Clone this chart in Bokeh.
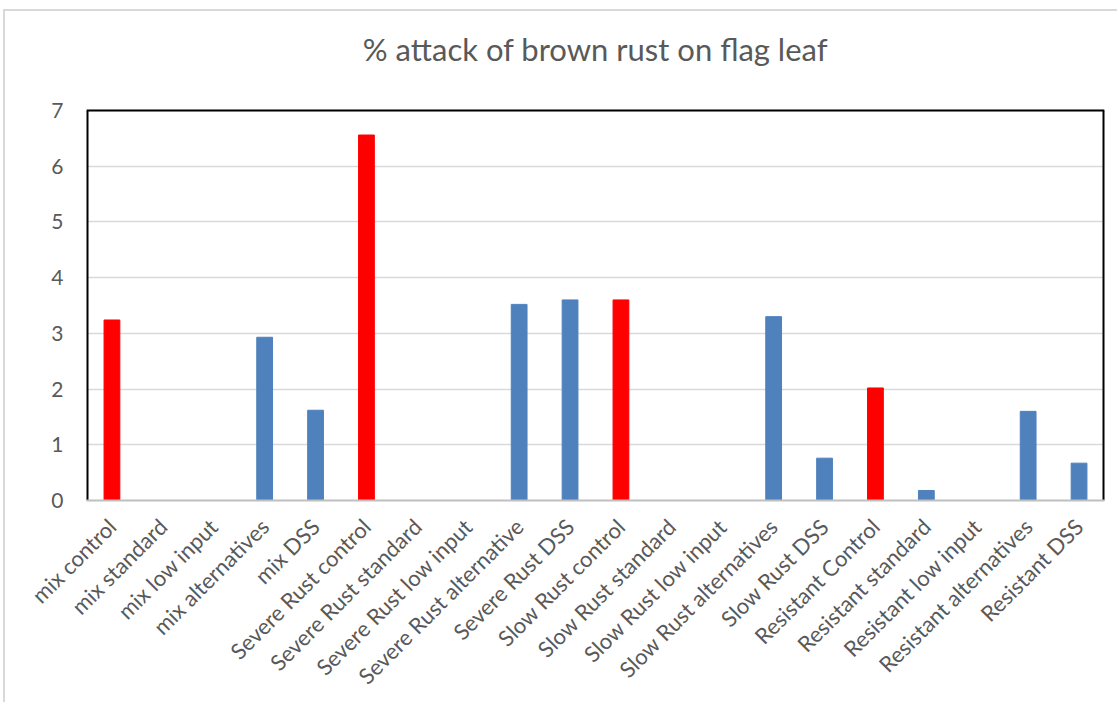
from bokeh.plotting import figure
from bokeh.models import ColumnDataSource, FactorRange, Range1d, FixedTicker
from bokeh.core.properties import value
from bokeh.embed import file_html
from bokeh.resources import INLINE
import math

# Brown rust attack (%) on the flag leaf per variety group and treatment
categories = [
    "mix control", "mix standard", "mix low input", "mix alternatives", "mix DSS",
    "Severe Rust control", "Severe Rust standard", "Severe Rust low input",
    "Severe Rust alternative", "Severe Rust DSS",
    "Slow Rust control", "Slow Rust standard", "Slow Rust low input",
    "Slow Rust alternatives", "Slow Rust DSS",
    "Resistant Control", "Resistant standard", "Resistant low input",
    "Resistant alternatives", "Resistant DSS",
]
attack = [
    3.24, 0.0, 0.0, 2.93, 1.62,
    6.56, 0.0, 0.0, 3.52, 3.60,
    3.60, 0.0, 0.0, 3.30, 0.76,
    2.02, 0.18, 0.0, 1.60, 0.67,
]
y_ticks = [0, 1, 2, 3, 4, 5, 6, 7]
chart_title = "% attack of brown rust on flag leaf"

CONTROL_COLOR = "#FF0000"
TREATED_COLOR = "#4F81BD"
colors = [CONTROL_COLOR if "control" in c.lower() else TREATED_COLOR for c in categories]

source = ColumnDataSource(data=dict(cat=categories, val=attack, color=colors))

FONT = "Lato"
TEXT_COLOR = "#595959"

# the y range runs above the top tick to leave room for the title inside the frame
y_top = y_ticks[-1]
headroom = 1.777
n_cat = len(categories)

p = figure(
    x_range=FactorRange(*categories, range_padding=0),
    y_range=Range1d(y_ticks[0], y_top + headroom),
    width=1114, height=693,
    output_backend="svg", toolbar_location=None,
    min_border_left=81, min_border_right=15,
    min_border_top=0, min_border_bottom=204,
)
p.margin = (9, 0, 0, 3)
p.styles = {"border-left": "2px solid #d9d9d9", "border-top": "2px solid #d9d9d9"}
p.outline_line_color = None

p.vbar(x="cat", top="val", width=0.31, color="color", source=source)

# black box round the value area (top, left and right sides)
p.segment(x0=[0, 0, n_cat], y0=[y_top, 0, 0], x1=[n_cat, 0, n_cat], y1=[y_top, y_top, y_top],
          line_color="black", line_width=[2, 4, 4])

# chart title
p.text(x=[n_cat / 2], y=[y_top + 1.095], text=[chart_title],
       text_align="center", text_baseline="middle",
       text_font=value(FONT), text_font_size="31px", text_color=TEXT_COLOR)

# grid
p.xgrid.grid_line_color = None
p.ygrid.grid_line_color = "#d9d9d9"
p.ygrid.grid_line_width = 1.5

# y axis
p.yaxis.ticker = FixedTicker(ticks=y_ticks)
p.yaxis.axis_line_color = None
p.yaxis.major_tick_line_color = None
p.yaxis.minor_tick_line_color = None
p.yaxis.major_label_standoff = 17
p.yaxis.major_label_text_font = FONT
p.yaxis.major_label_text_font_size = "21px"
p.yaxis.major_label_text_color = TEXT_COLOR

# x axis
p.xaxis.axis_line_color = "#bfbfbf"
p.xaxis.axis_line_width = 2
p.xaxis.major_tick_line_color = None
p.xaxis.minor_tick_line_color = None
p.xaxis.major_label_orientation = math.pi / 4
p.xaxis.major_label_standoff = 16
p.xaxis.major_label_text_font = FONT
p.xaxis.major_label_text_font_size = "22px"
p.xaxis.major_label_text_color = TEXT_COLOR

p.background_fill_color = "white"
p.border_fill_color = "white"

open("out.html", "w").write(file_html(p, INLINE))
